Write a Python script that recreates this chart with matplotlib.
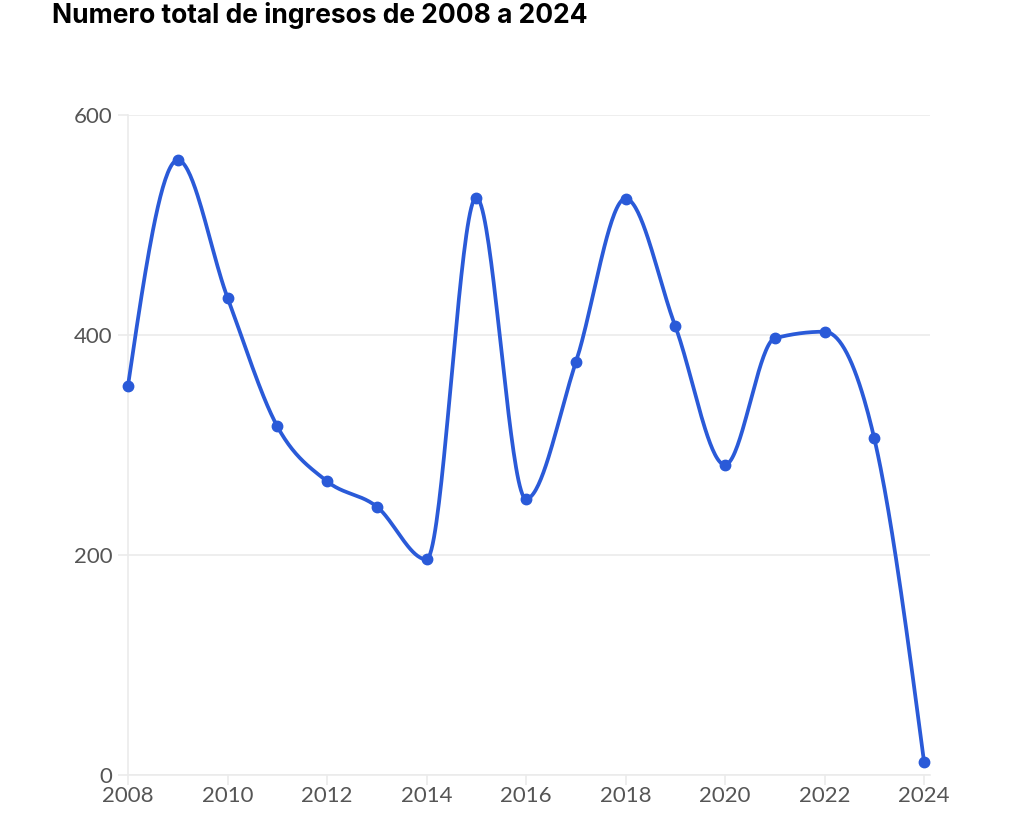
import numpy as np
import matplotlib
matplotlib.use("Agg")
import matplotlib.pyplot as plt

years = [2008, 2009, 2010, 2011, 2012, 2013, 2014, 2015, 2016,
         2017, 2018, 2019, 2020, 2021, 2022, 2023, 2024]
ingresos = [354, 559, 434, 317, 267, 244, 196, 525, 251,
            375, 524, 408, 282, 397, 403, 306, 12]
title = "Numero total de ingresos de 2008 a 2024"
yticks = [0, 200, 400, 600]
xticks = [2008, 2010, 2012, 2014, 2016, 2018, 2020, 2022, 2024]

LINE = "#2a5ad8"
GRID = "#ebebeb"
TXT = "#555555"


def monotone_x(x, y, n=40):
    x = np.asarray(x, float)
    y = np.asarray(y, float)
    m = len(x)
    h = np.diff(x)
    s = np.diff(y) / h
    t = np.zeros(m)
    for i in range(1, m - 1):
        s0, s1 = s[i - 1], s[i]
        h0, h1 = h[i - 1], h[i]
        p = (s0 * h1 + s1 * h0) / (h0 + h1)
        t[i] = (np.sign(s0) + np.sign(s1)) * min(abs(s0), abs(s1), 0.5 * abs(p))
    t[0] = (3 * s[0] - t[1]) / 2
    t[-1] = (3 * s[-1] - t[-2]) / 2
    xs, ys = [], []
    for i in range(m - 1):
        u = np.linspace(0, 1, n, endpoint=(i == m - 2))
        h00 = 2 * u**3 - 3 * u**2 + 1
        h10 = u**3 - 2 * u**2 + u
        h01 = -2 * u**3 + 3 * u**2
        h11 = u**3 - u**2
        xs.append(x[i] + u * h[i])
        ys.append(h00 * y[i] + h10 * h[i] * t[i] + h01 * y[i + 1] + h11 * h[i] * t[i + 1])
    return np.concatenate(xs), np.concatenate(ys)


plt.rcParams['font.family'] = ['Lato', 'DejaVu Sans']
fig = plt.figure(figsize=(10.24, 8.33), dpi=100)
W, H = 1024, 833
x0, x1 = 128, 930
y0, y1 = 775, 115
ax = fig.add_axes([x0 / W, 1 - y0 / H, (x1 - x0) / W, (y0 - y1) / H])

sx, sy = monotone_x(years, ingresos)
ax.plot(sx, sy, color=LINE, lw=2.7, solid_capstyle='round', zorder=3, clip_on=False)
ax.plot(years, ingresos, 'o', color=LINE, ms=7.5, zorder=4, clip_on=False)

ax.set_xlim(2008, 2024.12)
ax.set_ylim(0, 600)
ax.set_yticks(yticks)
ax.set_xticks(xticks)
ax.set_xticklabels([str(v) for v in xticks])
ax.grid(axis='y', color=GRID, lw=1.2, zorder=0)
for sp in ['top', 'right']:
    ax.spines[sp].set_visible(False)
for sp in ['left', 'bottom']:
    ax.spines[sp].set_color(GRID)
    ax.spines[sp].set_linewidth(1.2)
ax.tick_params(axis='both', colors=GRID, width=1.2, length=7, labelcolor=TXT, labelsize=16)
ax.tick_params(axis='y', pad=4)
ax.tick_params(axis='x', pad=1)

fig.text(52 / W, 1 - 23 / H, title, fontsize=19, fontweight='bold', color='#000000',
         family=['Inter', 'DejaVu Sans'], va='baseline', ha='left')

fig.savefig("out.png", dpi=100, facecolor='white')
